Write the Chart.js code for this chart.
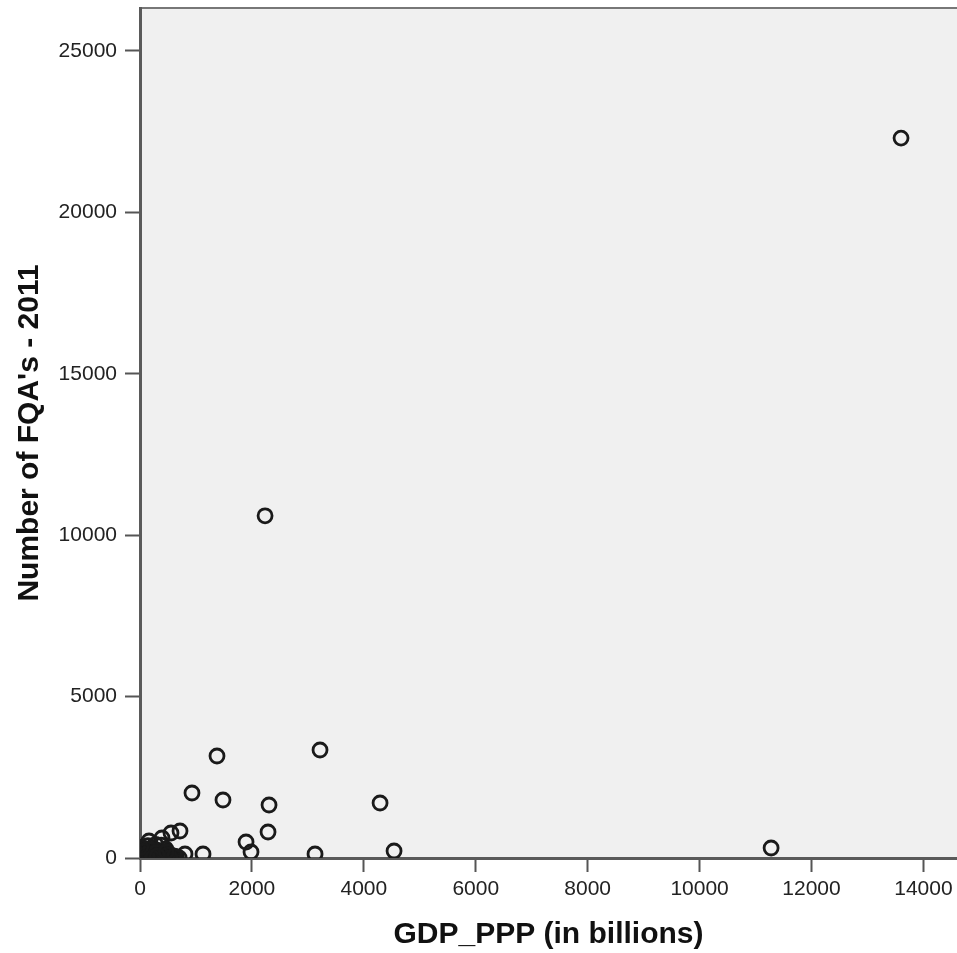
<!DOCTYPE html>
<html>
<head>
<meta charset="utf-8">
<script src="https://cdn.jsdelivr.net/npm/chart.js@4.4.1/dist/chart.umd.min.js"></script>
<style>
    html, body { margin: 0; padding: 0; background: #fff; }
    #wrap { width: 957px; height: 953px; }
</style>
</head>
<body>
<div id="wrap"><canvas id="scatter-chart" width="957" height="953"></canvas></div>
<script>
// GDP_PPP (in billions) per country
const gdpPpp = [
    13600, 2235, 3217, 1376, 929, 1483, 2306, 4290, 2288, 1895,
    1984, 3128, 4540, 11278, 1126, 804, 715, 554, 393, 161,
    30, 50, 80, 100, 120, 150, 180, 200, 220, 250,
    270, 300, 320, 350, 380, 400, 430, 460, 500, 520,
    560, 600, 650, 700, 60, 20, 140, 280, 10, 40,
    90, 170, 240, 330, 410, 480, 540, 110, 190, 360,
    70, 130, 210, 290, 440, 620, 15, 230, 310, 470
];
// Number of FQA's - 2011
const fqaCount = [
    22300, 10600, 3346, 3160, 2014, 1797, 1642, 1704, 805, 496,
    186, 124, 217, 310, 124, 124, 836, 774, 620, 527,
    20, 60, 150, 30, 250, 90, 10, 180, 330, 60,
    140, 240, 20, 100, 400, 180, 60, 280, 20, 130,
    40, 10, 20, 5, 300, 100, 380, 420, 10, 200,
    0, 40, 0, 50, 10, 80, 0, 110, 260, 0,
    220, 30, 120, 170, 150, 60, 330, 10, 70, 200
];

const xTicks = [0, 2000, 4000, 6000, 8000, 10000, 12000, 14000];
const yTicks = [0, 5000, 10000, 15000, 20000, 25000];

document.addEventListener('DOMContentLoaded', () => {

    const points = gdpPpp.map((x, i) => ({ x: x, y: fqaCount[i] }));

    const plotBackground = {
        id: 'plotBackground',
        beforeDraw(chart) {
            const { ctx, chartArea: a } = chart;
            ctx.save();
            ctx.fillStyle = '#ffffff';
            ctx.fillRect(0, 0, chart.width, chart.height);
            ctx.fillStyle = '#f0f0f0';
            ctx.fillRect(a.left, a.top, a.right - a.left, a.bottom - a.top);
            ctx.strokeStyle = '#777';
            ctx.lineWidth = 2;
            ctx.beginPath();
            ctx.moveTo(a.left, a.top);
            ctx.lineTo(a.right, a.top);
            ctx.stroke();
            ctx.restore();
        }
    };

    const tickFont = { family: '"Liberation Sans", Arial, sans-serif', size: 21 };
    const titleFont = { family: '"Liberation Sans", Arial, sans-serif', size: 30, weight: 'bold', lineHeight: 1.2 };

    // no thousands separator, like the original
    const plainNumber = v => String(v);

    const ctx = document.getElementById('scatter-chart').getContext('2d');
    new Chart(ctx, {
        type: 'scatter',
        data: {
            datasets: [{
                label: "Number of FQA's - 2011",
                data: points,
                pointStyle: 'circle',
                pointRadius: 7,
                pointBorderWidth: 2.8,
                pointBorderColor: '#1a1a1a',
                pointBackgroundColor: 'rgba(0,0,0,0)'
            }]
        },
        options: {
            responsive: false,
            animation: false,
            layout: { autoPadding: false, padding: { top: 8, right: 0, left: 0, bottom: 0 } },
            plugins: {
                legend: { display: false },
                tooltip: { enabled: false }
            },
            scales: {
                x: {
                    type: 'linear',
                    min: 0,
                    max: 14600,
                    afterBuildTicks: axis => { axis.ticks = xTicks.map(v => ({ value: v })); },
                    afterFit: axis => {
                        axis.height = 95;
                        axis.paddingLeft = 0;
                        axis.paddingRight = 0;
                    },
                    ticks: { font: tickFont, color: '#222', padding: 5, maxRotation: 0, callback: plainNumber },
                    grid: { drawOnChartArea: false, drawTicks: true, tickLength: 14, tickColor: '#555', tickWidth: 2 },
                    border: { display: true, color: '#5a5a5a', width: 3 },
                    title: { display: true, text: 'GDP_PPP (in billions)', font: titleFont, color: '#111', padding: { top: 0, bottom: 0 } }
                },
                y: {
                    type: 'linear',
                    min: 0,
                    max: 26330,
                    afterBuildTicks: axis => { axis.ticks = yTicks.map(v => ({ value: v })); },
                    afterFit: axis => {
                        axis.width = 140;
                        axis.paddingTop = 0;
                        axis.paddingBottom = 0;
                    },
                    ticks: { font: tickFont, color: '#222', padding: 8, callback: plainNumber },
                    grid: { drawOnChartArea: false, drawTicks: true, tickLength: 15, tickColor: '#555', tickWidth: 2 },
                    border: { display: true, color: '#5a5a5a', width: 3 },
                    title: { display: true, text: "Number of FQA's - 2011", font: titleFont, color: '#111', padding: { top: 12, bottom: 0 } }
                }
            }
        },
        plugins: [plotBackground]
    });
});
</script>
</body>
</html>
